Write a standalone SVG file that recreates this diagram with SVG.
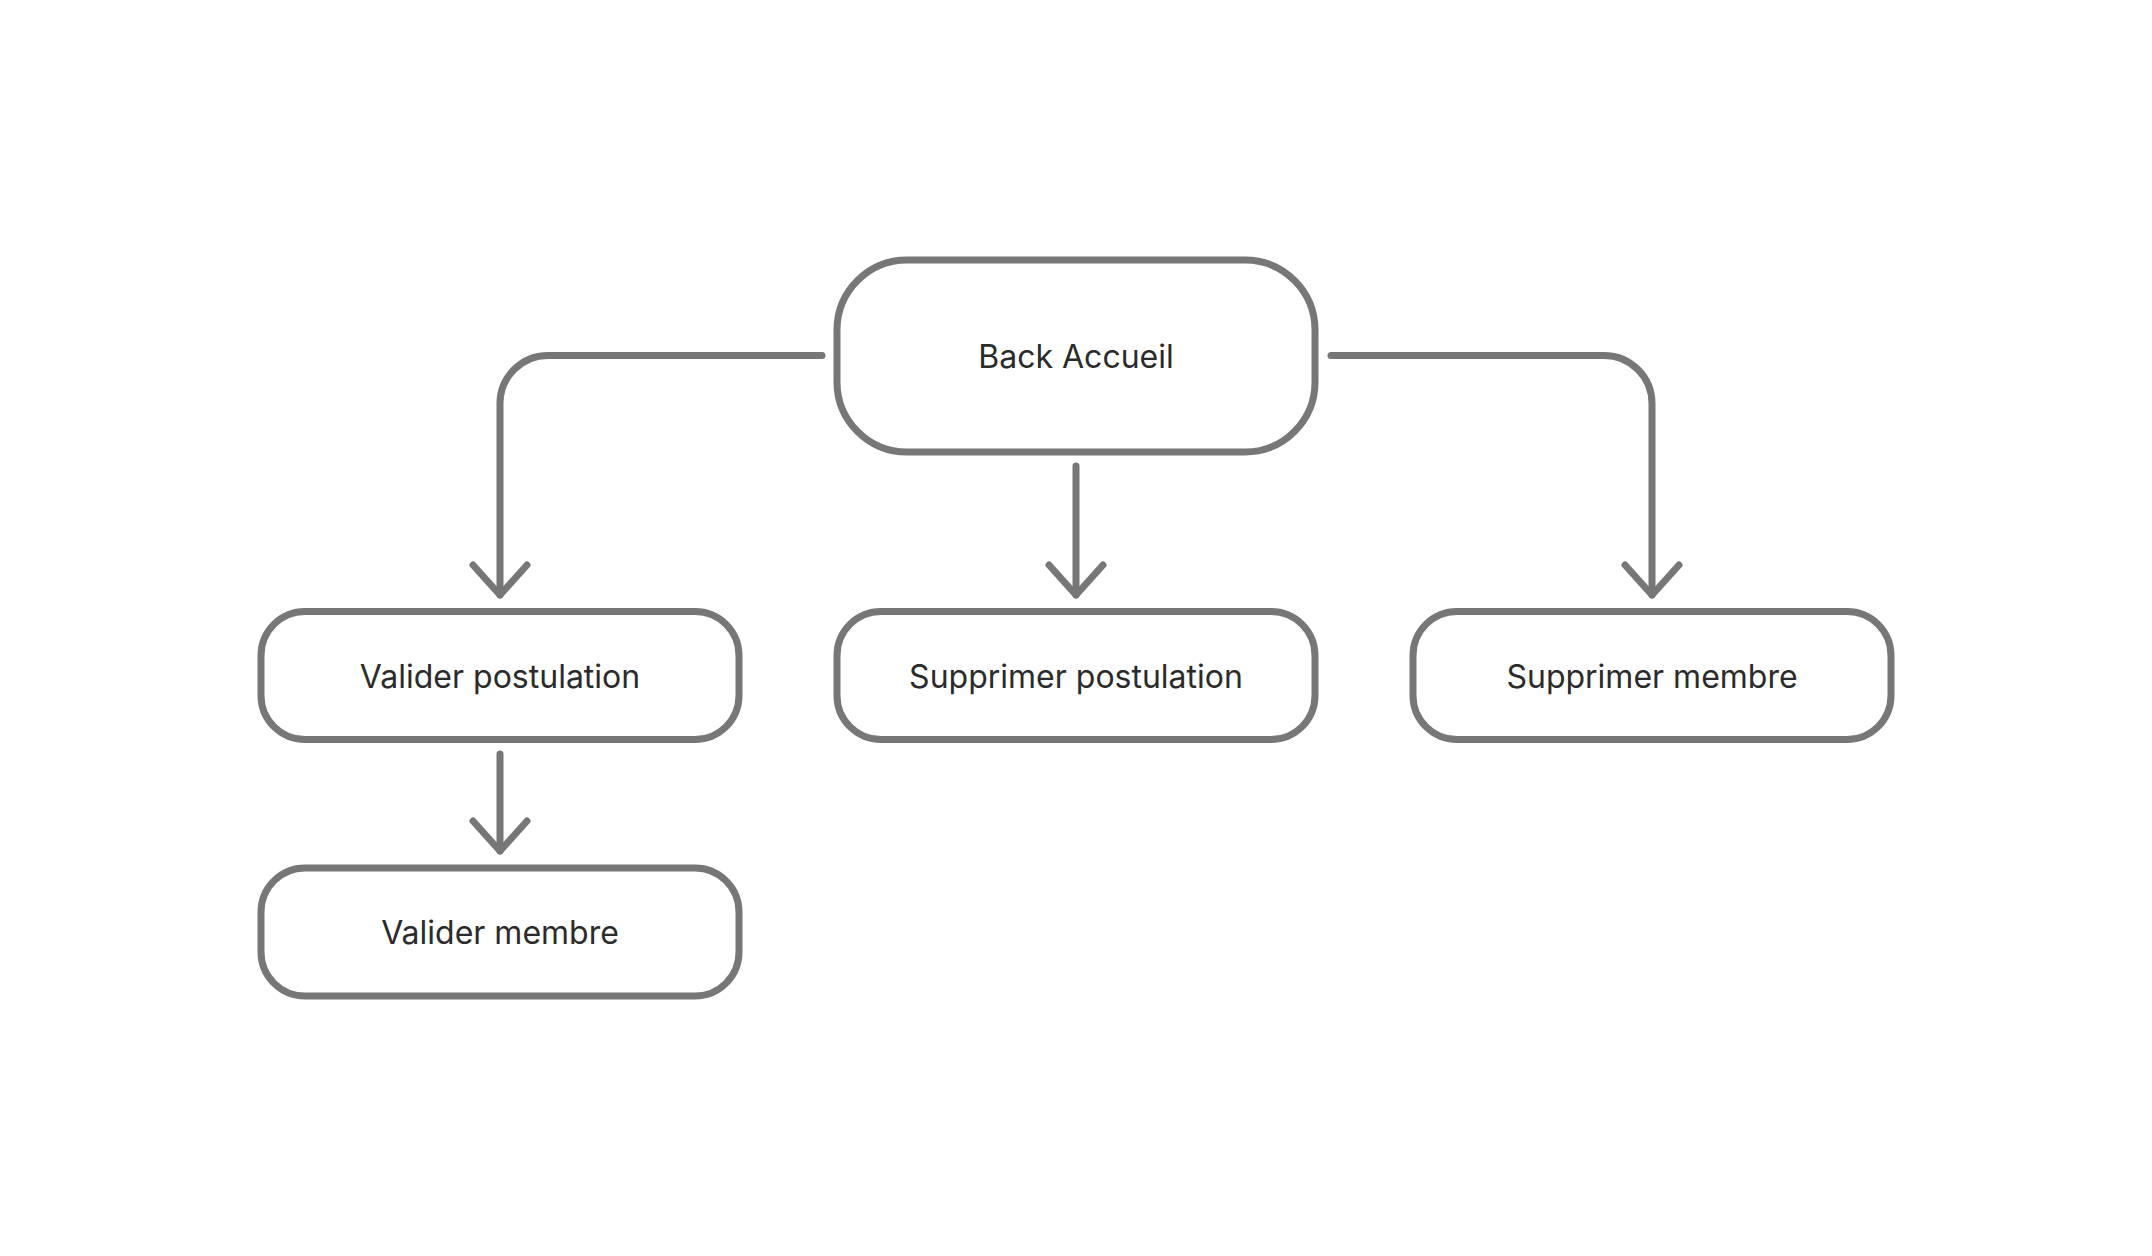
<svg xmlns="http://www.w3.org/2000/svg" width="2152" height="1256" viewBox="0 0 2152 1256">
<style>
.box{fill:#ffffff;stroke:#777777;stroke-width:7}
.lbl{font-family:Inter,"Noto Sans","Liberation Sans",sans-serif;font-size:32px;fill:#2b2b2b;text-anchor:middle}
.edge{fill:none;stroke:#777777;stroke-width:7;stroke-linecap:round;stroke-linejoin:round}
</style>
<defs>
<marker id="arr" markerUnits="userSpaceOnUse" markerWidth="80" markerHeight="80" viewBox="-40 -40 80 80" refX="0" refY="0" orient="auto" overflow="visible">
<path d="M-30,-27 L0,0 L-30,27" fill="none" stroke="#777777" stroke-width="7" stroke-linecap="round" stroke-linejoin="round"/>
</marker>
</defs>
<rect width="2152" height="1256" fill="#ffffff"/>
<g id="connectors">
<path class="edge" d="M822,355.5 H548 A48,48 0 0 0 500,403.5 V595" marker-end="url(#arr)"/>
<path class="edge" d="M1076,466 V595" marker-end="url(#arr)"/>
<path class="edge" d="M1331,355.5 H1604 A48,48 0 0 1 1652,403.5 V595" marker-end="url(#arr)"/>
<path class="edge" d="M500,754 V851" marker-end="url(#arr)"/>
</g>
<g id="back-accueil">
<rect class="box" x="837" y="260" width="478" height="192" rx="70"/>
<text class="lbl" x="1076" y="368">Back Accueil</text>
</g>
<g id="valider-postulation">
<rect class="box" x="261" y="611.5" width="478" height="128" rx="44"/>
<text class="lbl" x="500" y="688">Valider postulation</text>
</g>
<g id="supprimer-postulation">
<rect class="box" x="837" y="611.5" width="478" height="128" rx="44"/>
<text class="lbl" x="1076" y="688">Supprimer postulation</text>
</g>
<g id="supprimer-membre">
<rect class="box" x="1413" y="611.5" width="478" height="128" rx="44"/>
<text class="lbl" x="1652" y="688">Supprimer membre</text>
</g>
<g id="valider-membre">
<rect class="box" x="261" y="868" width="478" height="128" rx="44"/>
<text class="lbl" x="500" y="944">Valider membre</text>
</g>
</svg>
